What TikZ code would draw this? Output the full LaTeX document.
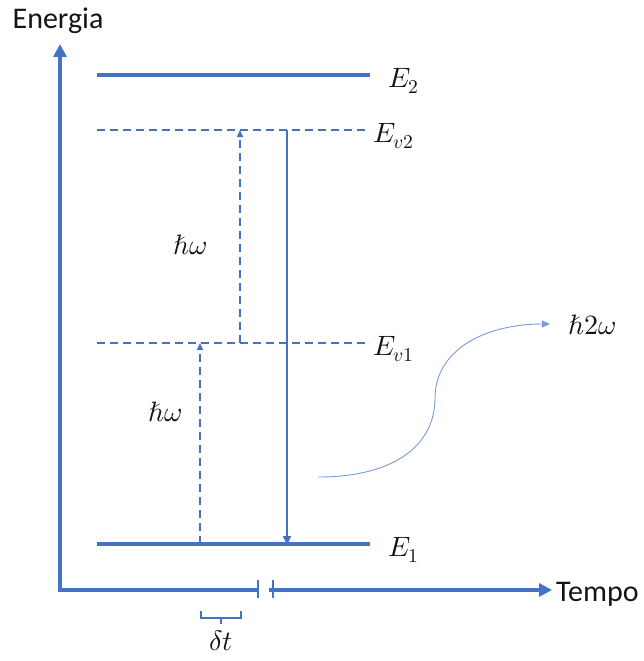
\documentclass[tikz,border=0pt]{standalone}
\usepackage{fontspec}
\usepackage{unicode-math}
\setmainfont{Carlito}
\setmathfont{Latin Modern Math}
\usetikzlibrary{arrows.meta}
\definecolor{ob}{RGB}{68,114,196}
\definecolor{lb}{RGB}{120,155,215}
\definecolor{tx}{RGB}{20,20,20}
\begin{document}
\begin{tikzpicture}[x=1pt,y=-1pt,
  axis/.style={draw=ob,line width=3.8pt,-{Triangle[length=13pt,width=13pt]}},
  level/.style={draw=ob,line width=3.8pt},
  vlevel/.style={draw=ob,line width=1.5pt,dash pattern=on 8pt off 5pt},
  vup/.style={draw=ob,line width=1.5pt,dash pattern=on 8pt off 5pt,-{Triangle[length=7pt,width=6pt]}},
  txt/.style={font=\fontsize{30}{34}\selectfont,inner sep=0pt,text=tx},
  lab/.style={font=\fontsize{28}{32}\selectfont,inner sep=0pt,text=tx}]
\useasboundingbox (0,0) rectangle (643,661);
% axes
\coordinate (O) at (60,590);
\coordinate (Ytop) at (60,44);
\coordinate (Xend) at (552,590);
\coordinate (B1) at (259,590);
\coordinate (B2) at (269,590);
\draw[axis] (O) -- (Ytop);
\draw[draw=ob,line width=3.8pt] (58.1,590) -- (B1);
\draw[axis] (B2) -- (Xend);
\draw[draw=ob,line width=2pt] (258,580) -- (258,598);
\draw[draw=ob,line width=2pt] (273,580) -- (273,598);
\node[txt,anchor=base] (en) at (58,29) {Energia};
\node[txt,anchor=base west] (tm) at (556,601) {Tempo};
% levels
\coordinate (E2a) at (97,75); \coordinate (E2b) at (370,75);
\coordinate (V2a) at (97,130); \coordinate (V2b) at (370,130);
\coordinate (V1a) at (97,343); \coordinate (V1b) at (370,343);
\coordinate (E1a) at (97,544); \coordinate (E1b) at (370,544);
\draw[level] (E2a) -- (E2b);
\draw[level] (E1a) -- (E1b);
\draw[vlevel] (V2a) -- (V2b);
\draw[vlevel] (V1a) -- (V1b);
\node[lab,anchor=base west] (lE2) at (388,87) {$E_2$};
\node[lab,anchor=base west] (lV2) at (373,142) {$E_{v2}$};
\node[lab,anchor=base west] (lV1) at (373,355) {$E_{v1}$};
\node[lab,anchor=base west] (lE1) at (388,556) {$E_1$};
% transitions
\coordinate (a1s) at (200,544); \coordinate (a1e) at (200,343);
\coordinate (a2s) at (240,343); \coordinate (a2e) at (240,130);
\coordinate (ds) at (287,130); \coordinate (de) at (287,545);
\draw[vup] (a1s) -- (a1e);
\draw[vup] (a2s) -- (a2e);
\draw[draw=ob,line width=2.2pt,-{Triangle[length=9pt,width=8pt]}] (ds) -- (de);
\node[lab] (h1) at (165,412) {$\hslash\omega$};
\node[lab] (h2) at (190,245) {$\hslash\omega$};
% emitted photon
\coordinate (cs) at (318,477);
\coordinate (cm) at (435,398);
\coordinate (ce) at (550,324);
\draw[draw=lb,line width=0.9pt,-{Triangle[length=8pt,width=7pt]}] (cs) .. controls (395,477) and (435,445) .. (cm) .. controls (435,350) and (485,324) .. (ce);
\node[lab,anchor=west] (h3) at (568,325) {$\hslash2\omega$};
% delta t brace
\coordinate (bl) at (201,611); \coordinate (br) at (241,611);
\draw[draw=ob,line width=2.5pt] (bl) -- (201,618) -- (241,618) -- (br);
\draw[draw=ob,line width=2.5pt] (221,618) -- (221,624);
\node[lab] (dt) at (221,641) {$\delta t$};
\end{tikzpicture}
\end{document}
